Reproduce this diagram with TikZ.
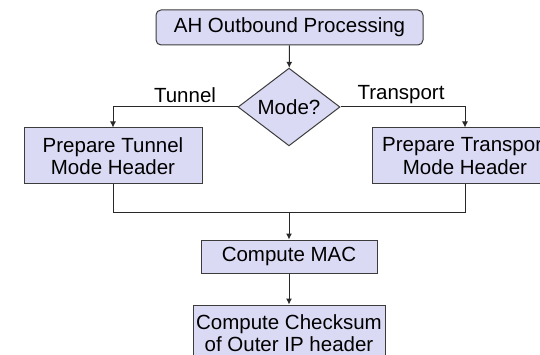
\documentclass[tikz,border=0pt]{standalone}
\usepackage{fontspec}
\setmainfont{Liberation Sans}
\usetikzlibrary{shapes.geometric,arrows.meta}
\definecolor{boxfill}{RGB}{218,218,244}
\definecolor{boxline}{RGB}{60,60,60}
\definecolor{conn}{RGB}{40,40,40}
\tikzset{
  base/.style={draw=boxline, fill=boxfill, line width=1pt, inner sep=0pt, align=center,
    font=\fontsize{20.5}{22.5}\selectfont},
  procbox/.style={base, rectangle},
  roundbox/.style={base, rectangle, rounded corners=5pt},
  decide/.style={base, diamond},
  lbl/.style={font=\fontsize{20.5}{22.5}\selectfont, inner sep=0pt},
  conn/.style={draw=conn, line width=1pt},
  arr/.style={conn, -{Latex[length=6pt,width=6pt]}}
}
\begin{document}
\begin{tikzpicture}[x=1pt,y=-1pt]
\useasboundingbox (0,0) rectangle (540,355);
\node[roundbox, minimum width=267pt, minimum height=35pt] (top) at (289.5,27.5) {AH Outbound Processing};
\node[decide, minimum width=102pt, minimum height=74pt] (mode) at (289,107) {Mode?};
\node[procbox, minimum width=178pt, minimum height=56pt] (tunnel) at (113,156) {Prepare Tunnel\\Mode Header};
\node[procbox, minimum width=186pt, minimum height=56pt] (transport) at (465,156) {Prepare Transport\\Mode Header};
\node[procbox, minimum width=176pt, minimum height=33pt] (mac) at (289,256.5) {Compute MAC};
\node[procbox, minimum width=192pt, minimum height=56pt] (cks) at (289,333) {Compute Checksum\\of Outer IP header};
\node[lbl] (ltun) at (185,95) {Tunnel};
\node[lbl] (ltra) at (401,95) {Transport};
\coordinate (join) at (289,213);
\draw[arr] (top) -- (mode);
\draw[arr] (mode.west) -| (tunnel.north);
\draw[arr] (mode.east) -| (transport.north);
\draw[conn] (tunnel.south) |- (join);
\draw[conn] (transport.south) |- (join);
\draw[arr] (join) -- (mac.north);
\draw[arr] (mac) -- (cks);
\end{tikzpicture}
\end{document}
